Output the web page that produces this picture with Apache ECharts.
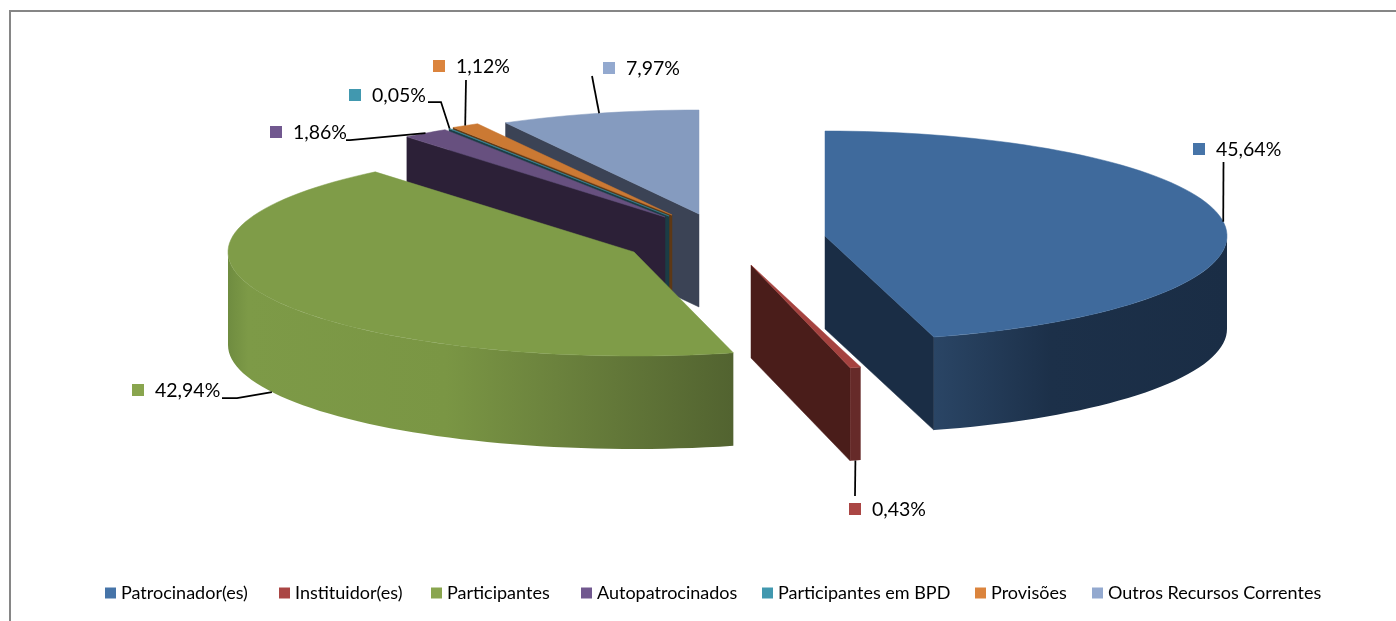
<!DOCTYPE html>
<html>
<head>
<meta charset="utf-8">
<style>
    html, body { margin: 0; padding: 0; background: #ffffff; }
    #chart { width: 1396px; height: 621px; }
</style>
<script src="https://cdn.jsdelivr.net/npm/echarts@6/dist/echarts.min.js"></script>
</head>
<body>
<div id="chart"></div>
<script>
const categories = [
    "Patrocinador(es)",
    "Instituidor(es)",
    "Participantes",
    "Autopatrocinados",
    "Participantes em BPD",
    "Provisões",
    "Outros Recursos Correntes"
];
const shareValues = [45.64, 0.43, 42.94, 1.86, 0.05, 1.12, 7.97];

const legendColors = ["#4674A8", "#AA4644", "#89A54E", "#71588F", "#4198AF", "#DB843D", "#93A9CF"];
const topColors = ["#3F6A9C", "#A5423F", "#7F9C48", "#67507F", "#3A8A9F", "#CB7933", "#859BBF"];
const cutColors = ["#1A2D45", "#4A1D1A", "#3A4A20", "#2C2037", "#1B3D45", "#5E3815", "#3B4355"];

// where each slice's tip sits after exploding, and its radius on screen
const tips = [[825, 236], [751, 265], [634, 252], [665, 217], [669, 216], [672, 215], [699, 214]];
const radiusX = [402, 405, 406, 405, 405, 405, 403];
const radiusY = [105, 106, 104, 104, 104, 104, 104];
const DEPTH = 93;

// leader line bends, then the label's key square position
const leaderBends = [
    [[1223.5, 162]],
    [[855, 496]],
    [[237, 398], [222, 398]],
    [[350, 140], [346, 140]],
    [[441, 102], [428, 102]],
    [[466, 80]],
    [[592, 76]]
];
const labelAnchors = [[1193, 149], [849, 509], [132, 390], [270, 132], [349, 95], [433, 66], [603, 68]];

// the legend keys are not evenly spaced in the original
const legendLefts = [105, 279, 431, 581, 762, 975, 1092];

const wallGradients = [
    [[0, "#2A4565"], [0.4, "#1C3049"], [1, "#1A2D45"]],
    [[0, "#662A29"], [1, "#662A29"]],
    [[0, "#6F8C40"], [0.04, "#7D9A47"], [0.43, "#7A9644"], [0.65, "#6B823D"], [1, "#526330"]]
];

const total = shareValues.reduce((a, b) => a + b, 0);

function sliceAngles(index) {
    let before = 0;
    for (let i = 0; i < index; i++) {
        before += shareValues[i];
    }
    return [before / total * 360, (before + shareValues[index]) / total * 360];
}

function rimPoint(index, degrees, drop) {
    const rad = degrees * Math.PI / 180;
    return [
        tips[index][0] + radiusX[index] * Math.sin(rad),
        tips[index][1] - radiusY[index] * Math.cos(rad) + (drop || 0)
    ];
}

function arcPoints(index, from, to, drop) {
    const steps = Math.max(2, Math.ceil((to - from) / 2));
    const points = [];
    for (let i = 0; i <= steps; i++) {
        points.push(rimPoint(index, from + (to - from) * i / steps, drop));
    }
    return points;
}

function polygon(points, fill, stroke) {
    return {
        type: "polygon",
        shape: { points: points },
        style: { fill: fill, stroke: stroke || fill, lineWidth: 0.5 }
    };
}

function cutFace(index, degrees) {
    const tip = tips[index];
    return polygon(
        [tip, rimPoint(index, degrees), rimPoint(index, degrees, DEPTH), [tip[0], tip[1] + DEPTH]],
        cutColors[index]
    );
}

function wallFace(index, from, to) {
    const upper = arcPoints(index, from, to, 0);
    const lower = arcPoints(index, from, to, DEPTH).reverse();
    const stops = wallGradients[index] || wallGradients[0];
    const fill = new echarts.graphic.LinearGradient(0, 0, 1, 0,
        stops.map(s => ({ offset: s[0], color: s[1] })));
    const shape = polygon(upper.concat(lower), fill, "none");
    shape.style.lineWidth = 0;
    return shape;
}

function renderSlice(index) {
    const angles = sliceAngles(index);
    const start = angles[0];
    const end = angles[1];
    const children = [];

    if (start > 180) {
        children.push(cutFace(index, start));
    }
    if (end < 180) {
        children.push(cutFace(index, end));
    }

    const wallFrom = Math.max(start, 90);
    const wallTo = Math.min(end, 270);
    if (wallTo > wallFrom) {
        children.push(wallFace(index, wallFrom, wallTo));
    }

    children.push(polygon(
        [tips[index]].concat(arcPoints(index, start, end, 0)),
        topColors[index]
    ));

    return children;
}

function renderLabel(index) {
    const angles = sliceAngles(index);
    const middle = (angles[0] + angles[1]) / 2;
    const onWall = middle > 90 && middle < 270;
    const from = rimPoint(index, middle, onWall ? DEPTH : 0);
    const anchor = labelAnchors[index];
    return [
        {
            type: "polyline",
            shape: { points: [from].concat(leaderBends[index]) },
            style: { fill: "none", stroke: "#000000", lineWidth: 1.75 },
            z2: 5
        },
        {
            type: "rect",
            shape: { x: anchor[0], y: anchor[1] - 6, width: 12, height: 12 },
            style: { fill: legendColors[index] },
            z2: 5
        },
        {
            type: "text",
            x: anchor[0] + 23,
            y: anchor[1] + 1,
            style: {
                text: shareValues[index].toFixed(2).replace(".", ",") + "%",
                font: "19.5px Lato",
                fill: "#000000",
                verticalAlign: "middle"
            },
            z2: 5
        }
    ];
}

// painter's order: the back slices first, the exploded front ones last
const drawOrder = [6, 5, 4, 3, 2, 1, 0];

const chart = echarts.init(document.getElementById("chart"), null, { renderer: "canvas" });

chart.setOption({
    backgroundColor: "#ffffff",
    animation: false,
    color: legendColors,
    legend: categories.map((name, index) => ({
        left: legendLefts[index] - 5,
        top: 579,
        icon: "rect",
        itemWidth: 11,
        itemHeight: 11,
        selectedMode: false,
        data: [name],
        textStyle: { fontFamily: "Lato", fontSize: 18, color: "#000000" }
    })),
    graphic: [
        {
            type: "polyline",
            shape: { points: [[10, 621], [10, 11], [1396, 11]] },
            style: { fill: "none", stroke: "#868686", lineWidth: 2 }
        }
    ],
    series: categories.map((name, index) => ({
        type: "custom",
        name: name,
        coordinateSystem: "none",
        z: 2 + drawOrder.indexOf(index),
        data: [[shareValues[index]]],
        renderItem: () => ({
            type: "group",
            children: renderSlice(index).concat(renderLabel(index))
        })
    }))
});
</script>
</body>
</html>
